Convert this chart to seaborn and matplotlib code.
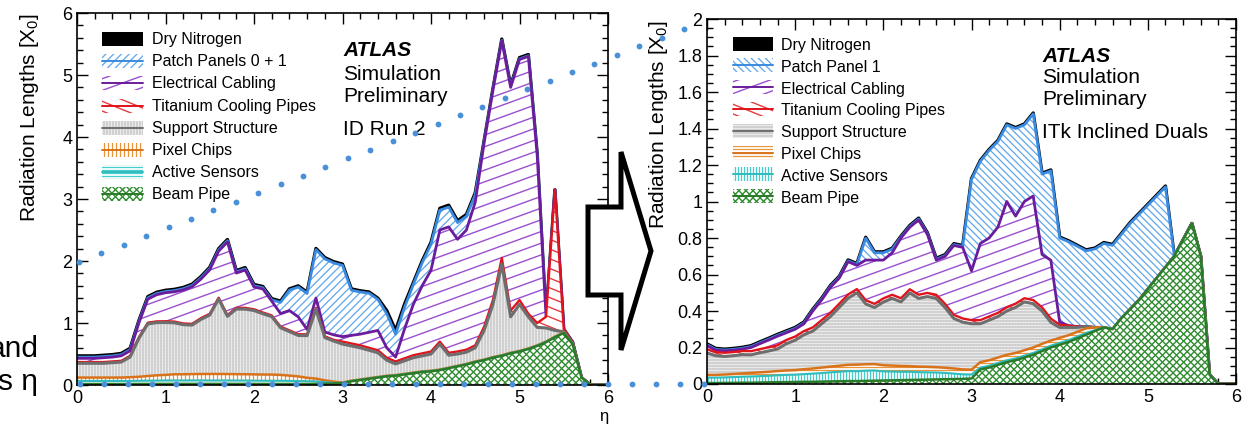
import numpy as np
import matplotlib
matplotlib.use("Agg")
import matplotlib.pyplot as plt
import seaborn as sns
from matplotlib.collections import LineCollection
from matplotlib.patches import Polygon, Rectangle
from matplotlib.transforms import IdentityTransform
from matplotlib.ticker import MultipleLocator, FuncFormatter

# ---------------------------------------------------------------- data
eta = [round(0.1 * i, 1) for i in range(61)]          # 0.0 ... 6.0

# ----- ID Run 2 (left) : radiation length per component, bottom -> top
run2_beam_pipe = [
    0.015, 0.015, 0.015, 0.015, 0.015, 0.015, 0.016, 0.016, 0.016, 0.016,
    0.017, 0.017, 0.017, 0.017, 0.017, 0.017, 0.017, 0.017, 0.017, 0.017,
    0.016, 0.016, 0.016, 0.016, 0.016, 0.016, 0.016, 0.018, 0.020, 0.024,
    0.030, 0.060, 0.080, 0.100, 0.120, 0.140, 0.150, 0.170, 0.190, 0.210,
    0.220, 0.240, 0.270, 0.300, 0.330, 0.370, 0.400, 0.440, 0.470, 0.510,
    0.540, 0.580, 0.630, 0.690, 0.770, 0.840, 0.660, 0.120, 0.000, 0.000,
    0.000]
run2_sensors = [
    0.050, 0.050, 0.050, 0.050, 0.050, 0.050, 0.050, 0.052, 0.054, 0.055,
    0.056, 0.056, 0.056, 0.057, 0.057, 0.056, 0.056, 0.056, 0.055, 0.055,
    0.054, 0.053, 0.052, 0.052, 0.050, 0.048, 0.045, 0.040, 0.025, 0.010,
    0.005, 0.005, 0.005, 0.005, 0.005, 0.005, 0.005, 0.005, 0.005, 0.005,
    0.005, 0.005, 0.005, 0.005, 0.005, 0.005, 0.005, 0.005, 0.005, 0.005,
    0.005, 0.005, 0.005, 0.005, 0.005, 0.005, 0.000, 0.000, 0.000, 0.000,
    0.000]
run2_chips = [
    0.055, 0.055, 0.055, 0.055, 0.055, 0.055, 0.060, 0.065, 0.075, 0.085,
    0.090, 0.100, 0.100, 0.102, 0.104, 0.105, 0.105, 0.104, 0.103, 0.102,
    0.101, 0.100, 0.100, 0.095, 0.085, 0.075, 0.055, 0.045, 0.030, 0.020,
    0.005, 0.005, 0.005, 0.005, 0.005, 0.005, 0.005, 0.005, 0.005, 0.005,
    0.005, 0.005, 0.005, 0.005, 0.005, 0.005, 0.005, 0.005, 0.005, 0.005,
    0.005, 0.005, 0.005, 0.005, 0.005, 0.005, 0.000, 0.000, 0.000, 0.000,
    0.000]
run2_support = [
    0.230, 0.230, 0.230, 0.230, 0.240, 0.250, 0.325, 0.620, 0.840, 0.850,
    0.845, 0.830, 0.800, 0.790, 0.880, 0.950, 1.210, 0.930, 1.050, 1.050,
    1.030, 0.980, 0.935, 0.760, 0.710, 0.660, 0.680, 1.120, 0.690, 0.655,
    0.620, 0.560, 0.510, 0.450, 0.390, 0.250, 0.180, 0.210, 0.240, 0.250,
    0.270, 0.410, 0.200, 0.190, 0.190, 0.220, 0.470, 0.850, 1.470, 0.580,
    0.750, 0.510, 0.290, 0.220, 0.100, 0.010, 0.010, 0.000, 0.000, 0.000,
    0.000]
run2_cooling = [
    0.02, 0.02, 0.02, 0.02, 0.02, 0.02, 0.02, 0.02, 0.02, 0.02,
    0.02, 0.02, 0.02, 0.02, 0.02, 0.02, 0.02, 0.02, 0.02, 0.02,
    0.02, 0.02, 0.02, 0.02, 0.02, 0.02, 0.02, 0.02, 0.02, 0.02,
    0.04, 0.04, 0.04, 0.04, 0.04, 0.04, 0.04, 0.04, 0.04, 0.04,
    0.04, 0.04, 0.04, 0.04, 0.04, 0.04, 0.06, 0.07, 0.10, 0.10,
    0.07, 0.05, 0.07, 0.18, 2.27, 0.04, 0.02, 0.00, 0.00, 0.00,
    0.00]
run2_cabling = [
    0.06, 0.06, 0.06, 0.07, 0.07, 0.08, 0.08, 0.23, 0.38, 0.43,
    0.46, 0.48, 0.54, 0.60, 0.63, 0.71, 0.75, 1.18, 0.56, 0.61,
    0.36, 0.38, 0.23, 0.21, 0.32, 0.28, 0.08, 0.16, 0.07, 0.08,
    0.08, 0.13, 0.18, 0.25, 0.32, 0.16, 0.07, 0.47, 0.82, 1.09,
    1.31, 1.80, 2.03, 1.81, 1.93, 2.31, 2.96, 3.38, 3.50, 3.60,
    3.88, 4.15, 2.70, 0.00, 0.00, 0.00, 0.00, 0.00, 0.00, 0.00,
    0.00]
run2_patch = [
    0.02, 0.02, 0.02, 0.02, 0.02, 0.02, 0.02, 0.02, 0.02, 0.02,
    0.02, 0.02, 0.02, 0.02, 0.02, 0.02, 0.02, 0.02, 0.02, 0.02,
    0.02, 0.02, 0.02, 0.18, 0.33, 0.48, 0.58, 0.78, 1.18, 1.16,
    1.15, 0.73, 0.68, 0.63, 0.50, 0.55, 0.37, 0.35, 0.32, 0.37,
    0.42, 0.32, 0.32, 0.27, 0.22, 0.12, 0.02, 0.01, 0.01, 0.01,
    0.01, 0.01, 0.01, 0.00, 0.00, 0.00, 0.00, 0.00, 0.00, 0.00,
    0.00]
run2_nitrogen = [
    0.02, 0.02, 0.02, 0.02, 0.02, 0.02, 0.02, 0.02, 0.02, 0.02,
    0.02, 0.02, 0.02, 0.02, 0.02, 0.02, 0.02, 0.02, 0.02, 0.02,
    0.02, 0.02, 0.02, 0.02, 0.02, 0.02, 0.02, 0.02, 0.02, 0.02,
    0.02, 0.02, 0.02, 0.02, 0.02, 0.05, 0.06, 0.05, 0.03, 0.03,
    0.03, 0.03, 0.03, 0.03, 0.03, 0.03, 0.02, 0.02, 0.02, 0.02,
    0.02, 0.02, 0.02, 0.00, 0.00, 0.00, 0.00, 0.00, 0.00, 0.00,
    0.00]

# ----- ITk Inclined Duals (right)
itk_beam_pipe = [
    0.005, 0.005, 0.006, 0.006, 0.007, 0.007, 0.008, 0.009, 0.010, 0.010,
    0.011, 0.012, 0.012, 0.013, 0.014, 0.015, 0.016, 0.016, 0.017, 0.018,
    0.019, 0.020, 0.021, 0.022, 0.023, 0.024, 0.025, 0.026, 0.027, 0.028,
    0.030, 0.080, 0.090, 0.105, 0.120, 0.130, 0.145, 0.160, 0.180, 0.200,
    0.215, 0.230, 0.250, 0.270, 0.290, 0.310, 0.300, 0.360, 0.410, 0.460,
    0.520, 0.580, 0.640, 0.700, 0.790, 0.880, 0.700, 0.050, 0.000, 0.000,
    0.000]
itk_sensors = [
    0.030, 0.030, 0.030, 0.032, 0.033, 0.034, 0.035, 0.036, 0.038, 0.040,
    0.040, 0.042, 0.045, 0.047, 0.050, 0.052, 0.055, 0.054, 0.056, 0.056,
    0.050, 0.048, 0.046, 0.045, 0.042, 0.040, 0.038, 0.035, 0.030, 0.025,
    0.022, 0.010, 0.010, 0.010, 0.010, 0.010, 0.010, 0.010, 0.010, 0.010,
    0.010, 0.010, 0.010, 0.010, 0.005, 0.000, 0.000, 0.000, 0.000, 0.000,
    0.000, 0.000, 0.000, 0.000, 0.000, 0.000, 0.000, 0.000, 0.000, 0.000,
    0.000]
itk_chips = [
    0.015, 0.015, 0.016, 0.017, 0.018, 0.020, 0.021, 0.022, 0.023, 0.024,
    0.025, 0.027, 0.028, 0.030, 0.031, 0.033, 0.034, 0.036, 0.035, 0.035,
    0.034, 0.033, 0.032, 0.031, 0.030, 0.030, 0.029, 0.028, 0.028, 0.027,
    0.026, 0.030, 0.030, 0.030, 0.030, 0.030, 0.030, 0.030, 0.030, 0.028,
    0.028, 0.027, 0.026, 0.025, 0.015, 0.000, 0.000, 0.000, 0.000, 0.000,
    0.000, 0.000, 0.000, 0.000, 0.000, 0.000, 0.000, 0.000, 0.000, 0.000,
    0.000]
itk_support = [
    0.120, 0.105, 0.099, 0.100, 0.103, 0.099, 0.107, 0.114, 0.121, 0.147,
    0.164, 0.189, 0.205, 0.240, 0.275, 0.320, 0.365, 0.394, 0.331, 0.310,
    0.346, 0.368, 0.351, 0.401, 0.374, 0.385, 0.377, 0.330, 0.274, 0.259,
    0.252, 0.210, 0.220, 0.225, 0.240, 0.250, 0.265, 0.240, 0.180, 0.100,
    0.057, 0.043, 0.024, 0.010, 0.000, 0.000, 0.000, 0.000, 0.000, 0.000,
    0.000, 0.000, 0.000, 0.000, 0.000, 0.000, 0.000, 0.000, 0.000, 0.000,
    0.000]
itk_cooling = [
    0.020, 0.020, 0.020, 0.020, 0.020, 0.020, 0.020, 0.020, 0.020, 0.020,
    0.020, 0.020, 0.020, 0.020, 0.020, 0.020, 0.020, 0.020, 0.020, 0.020,
    0.020, 0.020, 0.020, 0.020, 0.020, 0.020, 0.020, 0.020, 0.020, 0.020,
    0.020, 0.020, 0.020, 0.020, 0.020, 0.020, 0.020, 0.020, 0.020, 0.020,
    0.015, 0.010, 0.005, 0.000, 0.000, 0.000, 0.000, 0.000, 0.000, 0.000,
    0.000, 0.000, 0.000, 0.000, 0.000, 0.000, 0.000, 0.000, 0.000, 0.000,
    0.000]
itk_cabling = [
    0.020, 0.010, 0.010, 0.010, 0.010, 0.020, 0.030, 0.040, 0.050, 0.040,
    0.040, 0.040, 0.090, 0.110, 0.140, 0.140, 0.180, 0.130, 0.220, 0.240,
    0.210, 0.230, 0.330, 0.340, 0.410, 0.320, 0.190, 0.260, 0.380, 0.390,
    0.270, 0.420, 0.430, 0.470, 0.580, 0.480, 0.530, 0.570, 0.290, 0.320,
    0.015, 0.000, 0.000, 0.000, 0.000, 0.000, 0.000, 0.000, 0.000, 0.000,
    0.000, 0.000, 0.000, 0.000, 0.000, 0.000, 0.000, 0.000, 0.000, 0.000,
    0.000]
itk_patch = [
    0.005, 0.005, 0.005, 0.005, 0.005, 0.005, 0.005, 0.005, 0.005, 0.005,
    0.005, 0.005, 0.005, 0.005, 0.005, 0.005, 0.005, 0.005, 0.120, 0.040,
    0.040, 0.020, 0.005, 0.005, 0.005, 0.005, 0.005, 0.005, 0.005, 0.005,
    0.500, 0.450, 0.480, 0.470, 0.420, 0.480, 0.420, 0.450, 0.440, 0.490,
    0.460, 0.460, 0.440, 0.415, 0.430, 0.460, 0.460, 0.460, 0.470, 0.470,
    0.460, 0.450, 0.440, 0.000, 0.000, 0.000, 0.000, 0.000, 0.000, 0.000,
    0.000]
itk_nitrogen = [
    0.005, 0.005, 0.005, 0.005, 0.005, 0.005, 0.005, 0.005, 0.005, 0.005,
    0.005, 0.005, 0.005, 0.005, 0.005, 0.005, 0.005, 0.005, 0.005, 0.005,
    0.005, 0.005, 0.005, 0.005, 0.005, 0.005, 0.005, 0.005, 0.005, 0.005,
    0.005, 0.005, 0.005, 0.005, 0.005, 0.005, 0.005, 0.005, 0.005, 0.005,
    0.005, 0.005, 0.005, 0.005, 0.005, 0.005, 0.005, 0.005, 0.005, 0.005,
    0.005, 0.005, 0.005, 0.000, 0.000, 0.000, 0.000, 0.000, 0.000, 0.000,
    0.000]

component_keys = ["beam", "sensors", "chips", "support", "cooling",
                  "cabling", "patch", "nitrogen"]                 # bottom -> top
run2_series = [run2_beam_pipe, run2_sensors, run2_chips, run2_support,
               run2_cooling, run2_cabling, run2_patch, run2_nitrogen]
itk_series = [itk_beam_pipe, itk_sensors, itk_chips, itk_support,
              itk_cooling, itk_cabling, itk_patch, itk_nitrogen]

run2_labels = ["Dry Nitrogen", "Patch Panels 0 + 1", "Electrical Cabling",
               "Titanium Cooling Pipes", "Support Structure", "Pixel Chips",
               "Active Sensors", "Beam Pipe"]
itk_labels = ["Dry Nitrogen", "Patch Panel 1", "Electrical Cabling",
              "Titanium Cooling Pipes", "Support Structure", "Pixel Chips",
              "Active Sensors", "Beam Pipe"]
legend_keys = ["nitrogen", "patch", "cabling", "cooling", "support",
               "chips", "sensors", "beam"]

run2_ticks_y = [0, 1, 2, 3, 4, 5, 6]
itk_ticks_y = [0, 0.2, 0.4, 0.6, 0.8, 1, 1.2, 1.4, 1.6, 1.8, 2]
ticks_x = [0, 1, 2, 3, 4, 5, 6]

# ---------------------------------------------------------------- styles
BLUE, PURPLE, RED = "#5ea6ec", "#9a4fd0", "#e6393d"
GREEN, ORANGE, CYAN = "#2e8b2e", "#e8953a", "#45cccc"

style_left = {
    "nitrogen": dict(face="black", hatches=[], line="black", lw=2.4),
    "patch": dict(face="white", hatches=[(45, 5.5, BLUE, 0.9)], line="#3a8be0", lw=2.0),
    "cabling": dict(face="white", hatches=[(20, 11, PURPLE, 1.0)], line="#6a1c9c", lw=2.0),
    "cooling": dict(face="white", hatches=[(-22, 9, RED, 1.0)], line="#e0141c", lw=1.7),
    "support": dict(face="#cdcdcd", hatches=[(90, 3, "white", 0.45), (0, 3, "#e2e2e2", 0.35)],
                    line="#6e6e6e", lw=2.2),
    "chips": dict(face="white", hatches=[(90, 4, ORANGE, 0.9)], line="#d8731c", lw=1.8),
    "sensors": dict(face="white", hatches=[(0, 3, CYAN, 0.9)], line="#2fbcbc", lw=1.5),
    "beam": dict(face="white", hatches=[(45, 5, GREEN, 1.0), (-45, 5, GREEN, 1.0)],
                 line="#2a7a2a", lw=1.8),
}
style_right = dict(style_left)
style_right["patch"] = dict(face="white", hatches=[(-45, 5, BLUE, 0.9)], line="#3a8be0", lw=2.0)
style_right["support"] = dict(face="#cdcdcd", hatches=[(0, 3, "white", 0.45), (90, 3, "#e2e2e2", 0.35)],
                              line="#6e6e6e", lw=2.2)
style_right["chips"] = dict(face="white", hatches=[(0, 3.5, ORANGE, 0.9)], line="#d8731c", lw=1.8)
style_right["sensors"] = dict(face="white", hatches=[(90, 3, CYAN, 0.9)], line="#2fbcbc", lw=1.5)

# ---------------------------------------------------------------- figure
sns.set_theme(style="ticks")
plt.rcParams["font.family"] = ["Liberation Sans", "DejaVu Sans"]
plt.rcParams["mathtext.fontset"] = "custom"
plt.rcParams["mathtext.rm"] = "Liberation Sans"
plt.rcParams["mathtext.it"] = "Liberation Sans"
plt.rcParams["axes.edgecolor"] = "black"
plt.rcParams["xtick.color"] = "black"
plt.rcParams["ytick.color"] = "black"
plt.rcParams["text.color"] = "black"

W, H = 1253, 424
fig = plt.figure(figsize=(W / 100, H / 100), dpi=100, facecolor="white")


def px_axes(x0, y0, x1, y1, **kw):
    return fig.add_axes([x0 / W, 1 - y1 / H, (x1 - x0) / W, (y1 - y0) / H], **kw)


def hatch_lines(ax, patch, angle, spacing, color, lw, z):
    path = patch.get_path().transformed(patch.get_transform())
    (x0, y0), (x1, y1) = path.get_extents().get_points()
    cx, cy = (x0 + x1) / 2, (y0 + y1) / 2
    R = np.hypot(x1 - x0, y1 - y0) / 2 + spacing
    a = np.radians(angle)
    d = np.array([np.cos(a), np.sin(a)])
    n = np.array([-np.sin(a), np.cos(a)])
    segs = []
    for o in np.arange(-R, R + spacing, spacing):
        c = np.array([cx, cy]) + o * n
        segs.append([c - R * d, c + R * d])
    lc = LineCollection(segs, colors=color, linewidths=lw,
                        transform=IdentityTransform(), zorder=z)
    ax.add_collection(lc, autolim=False)
    lc.set_clip_path(patch)


def draw_stack(ax, series, styles):
    cum = np.cumsum(np.array(series, dtype=float), axis=0)
    nlay = len(component_keys)
    for j, k in enumerate(range(nlay - 1, -1, -1)):
        st = styles[component_keys[k]]
        top = cum[k]
        z = 2 + 3 * j
        verts = [(eta[0], 0.0)] + list(zip(eta, top)) + [(eta[-1], 0.0)]
        poly = Polygon(verts, closed=True, facecolor=st["face"], edgecolor="none",
                       linewidth=0, zorder=z)
        ax.add_patch(poly)
        for (ang, sp, col, lw) in st["hatches"]:
            hatch_lines(ax, poly, ang, sp, col, lw, z + 1)
        sns.lineplot(x=eta, y=top, ax=ax, color=st["line"], linewidth=st["lw"],
                     estimator=None, sort=False, legend=False)
        ax.lines[-1].set_zorder(z + 2)
    ax.set_xlabel("")
    ax.set_ylabel("")


def style_axes(ax, ymax, ymaj, ymin, yticks):
    ax.set_xlim(0, 6)
    ax.set_ylim(0, ymax)
    ax.set_xticks(ticks_x)
    ax.set_yticks(yticks)
    ax.xaxis.set_minor_locator(MultipleLocator(0.2))
    ax.yaxis.set_minor_locator(MultipleLocator(ymin))
    fmt = FuncFormatter(lambda v, p: "%g" % round(v, 3))
    ax.xaxis.set_major_formatter(fmt)
    ax.yaxis.set_major_formatter(fmt)
    ax.tick_params(which="both", direction="in", top=True, right=True,
                   labelsize=13, colors="black")
    ax.tick_params(which="major", length=8, width=1.0)
    ax.tick_params(which="minor", length=4, width=1.0)
    for s in ax.spines.values():
        s.set_linewidth(1.2)
        s.set_color("black")
        s.set_zorder(60)
    ax.set_facecolor("white")
    ax.grid(False)


axL = px_axes(77, 13, 608, 385)
axR = px_axes(707, 19, 1236, 384)
style_axes(axL, 6, 1, 0.2, run2_ticks_y)
style_axes(axR, 2, 0.2, 0.05, itk_ticks_y)
draw_stack(axL, run2_series, style_left)
draw_stack(axR, itk_series, style_right)

# ---------------------------------------------------------------- overlay (pixel coords)
ov = fig.add_axes([0, 0, 1, 1], zorder=10)
ov.set_xlim(0, W)
ov.set_ylim(H, 0)
ov.axis("off")
ov.patch.set_alpha(0)


def draw_legend(labels, styles, sx0, sx1, tx, base0, step, off):
    for i, (key, lab) in enumerate(zip(legend_keys, labels)):
        st = styles[key]
        yb = base0 + i * step
        yc = yb - off
        rect = Rectangle((sx0, yc - 7), sx1 - sx0, 14, facecolor=st["face"],
                         edgecolor="none", zorder=11)
        ov.add_patch(rect)
        for (ang, sp, col, lw) in st["hatches"]:
            hatch_lines(ov, rect, ang, sp, col, lw, 12)
        if key != "nitrogen":
            ov.plot([sx0, sx1], [yc, yc], color=st["line"], lw=1.4, zorder=13)
        ov.text(tx, yb, lab, fontsize=11.5, ha="left", va="baseline", zorder=13)


draw_legend(run2_labels, style_left, 102, 143, 152, 44, 22.2, 5)
draw_legend(itk_labels, style_right, 733, 773, 781, 50, 21.8, 6.5)

# ATLAS labels
for x, lines in [(343, [(56, "ATLAS"), (80, "Simulation"), (102, "Preliminary"), (135, "ID Run 2")]),
                 (1042, [(62, "ATLAS"), (83, "Simulation"), (105, "Preliminary"),
                         (138, "ITk Inclined Duals")])]:
    for k, (yb, s) in enumerate(lines):
        if k == 0:
            ov.text(x, yb, s, fontsize=15, fontweight="bold", fontstyle="italic",
                    ha="left", va="baseline")
        else:
            ov.text(x, yb, s, fontsize=15, ha="left", va="baseline")

# axis titles
ov.text(30, 13, "Radiation Lengths [X$_{0}$]", rotation=90, fontsize=15,
        ha="center", va="top")
ov.text(659, 20, "Radiation Lengths [X$_{0}$]", rotation=90, fontsize=15,
        ha="center", va="top")
ov.text(604, 417, "η", fontsize=12, ha="center", va="center")

# slide fragments at the left edge
ov.text(39, 357, "and", fontsize=21.5, ha="right", va="baseline")
ov.text(38, 390, "s η", fontsize=21.5, ha="right", va="baseline")

# slide guide dots
rise_x = np.linspace(79, 684, 28)
rise_y = np.linspace(262, 29, 28)
flat_x = np.linspace(80, 704, 27)
flat_y = np.full(27, 383.5)
ov.plot(rise_x, rise_y, "o", ms=4.2, color="#4a90d9", mec="none", zorder=15)
ov.plot(flat_x, flat_y, "o", ms=4.2, color="#4a90d9", mec="none", zorder=15)

# big arrow between the panels
arrow = Polygon([(588, 207), (621, 207), (621, 152), (651, 251), (621, 350),
                 (621, 295), (588, 295)], closed=True, facecolor="white",
                edgecolor="black", linewidth=3.6, joinstyle="miter", zorder=16)
ov.add_patch(arrow)

fig.savefig("out.png", dpi=100, facecolor="white")
